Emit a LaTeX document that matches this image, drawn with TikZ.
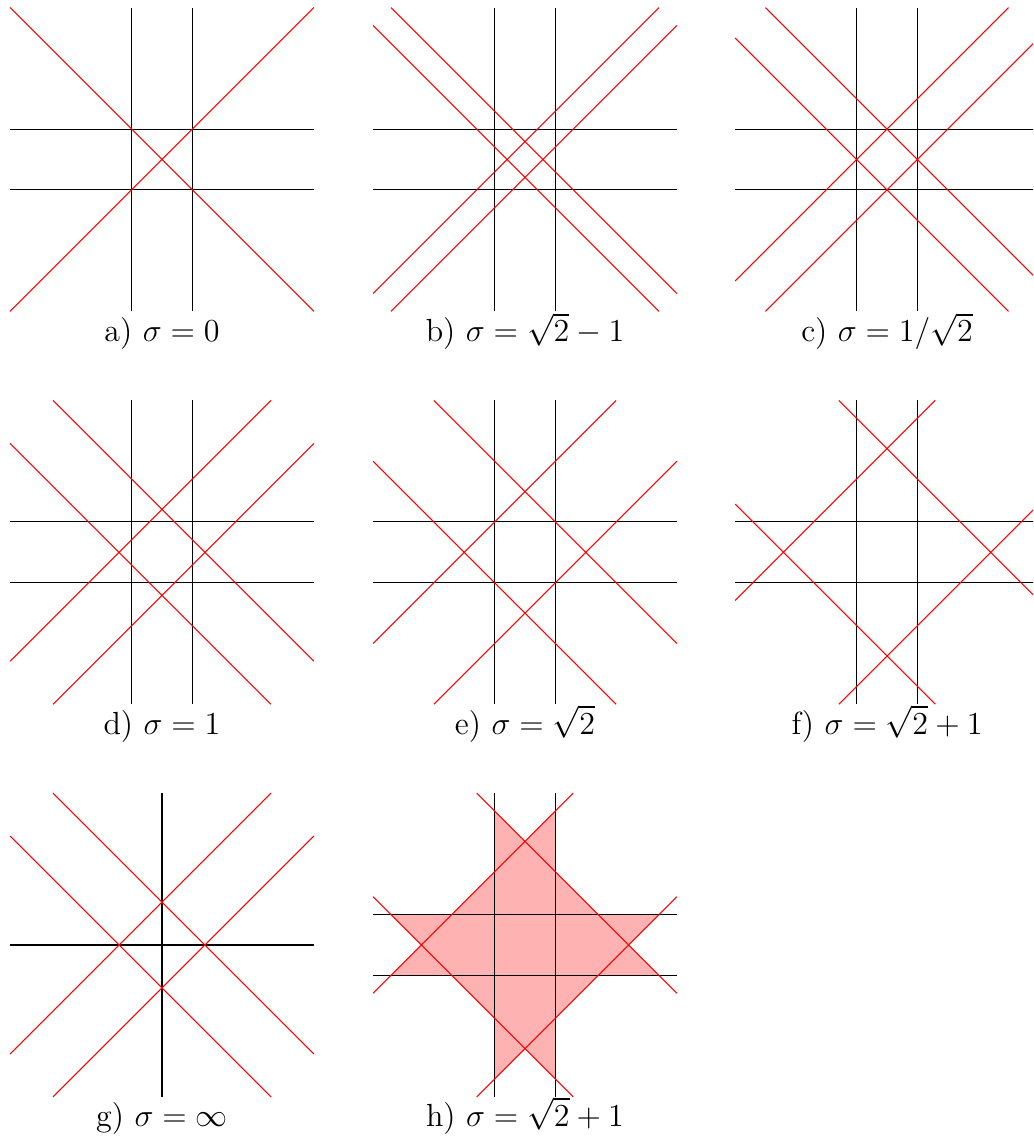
\documentclass[tikz,border=0pt]{standalone}
\newcommand{\gridpair}{\draw[gridline] (-1,-5) -- (-1,5) (1,-5) -- (1,5) (-5,-1) -- (5,-1) (-5,1) -- (5,1);}
\newcommand{\diaglines}[1]{\draw[redline] ({#1-5},5) -- (5,{#1-5}) (-5,{5-#1}) -- ({5-#1},-5) ({#1-5},-5) -- (5,{5-#1}) (-5,{#1-5}) -- ({5-#1},5);}
\begin{document}
\begin{tikzpicture}[x=0.013175cm,y=-0.013175cm,
  gridline/.style={black,line width=0.4pt},
  redline/.style={red,line width=0.4pt},
  starfill/.style={fill=red!30,draw=none},
  lbl/.style={anchor=base,font=\fontsize{12}{14.5}\selectfont,inner sep=0pt},
  panel/.style={x=0.4cm,y=0.4cm}]
\clip (0,0) rectangle (1033,1141);
% a
\begin{scope}[shift={(162,159.5)},panel]
  \gridpair \diaglines{0}
\end{scope}
\node[lbl] (la) at (162,342) {a) $\sigma = 0$};
% b
\begin{scope}[shift={(525,159.5)},panel]
  \gridpair \diaglines{0.5858}
\end{scope}
\node[lbl] (lb) at (525,342) {b) $\sigma = \sqrt{2}-1$};
% c
\begin{scope}[shift={(887,159.5)},panel]
  \gridpair \diaglines{1}
\end{scope}
\node[lbl] (lc) at (887,342) {c) $\sigma = 1/\sqrt{2}$};
% d
\begin{scope}[shift={(162,552.3)},panel]
  \gridpair \diaglines{1.4142}
\end{scope}
\node[lbl] (ld) at (162,734) {d) $\sigma = 1$};
% e
\begin{scope}[shift={(525,552.3)},panel]
  \gridpair \diaglines{2}
\end{scope}
\node[lbl] (le) at (525,734) {e) $\sigma = \sqrt{2}$};
% f
\begin{scope}[shift={(887,552.3)},panel]
  \gridpair \diaglines{3.4142}
\end{scope}
\node[lbl] (lf) at (887,734) {f) $\sigma = \sqrt{2}+1$};
% g
\begin{scope}[shift={(162,945)},panel]
  \draw[gridline] (0,-5) -- (0,5) (-5,0) -- (5,0);
  \diaglines{1.4142}
\end{scope}
\node[lbl] (lg) at (162,1126) {g) $\sigma = \infty$};
% h
\begin{scope}[shift={(525,945)},panel]
  \fill[starfill] (-1,4.4142) -- (0,3.4142) -- (1,4.4142) -- (1,2.4142) -- (2.4142,1) -- (4.4142,1)
    -- (3.4142,0) -- (4.4142,-1) -- (2.4142,-1) -- (1,-2.4142) -- (1,-4.4142) -- (0,-3.4142)
    -- (-1,-4.4142) -- (-1,-2.4142) -- (-2.4142,-1) -- (-4.4142,-1) -- (-3.4142,0) -- (-4.4142,1)
    -- (-2.4142,1) -- (-1,2.4142) -- cycle;
  \gridpair \diaglines{3.4142}
\end{scope}
\node[lbl] (lh) at (525,1126) {h) $\sigma = \sqrt{2}+1$};
\end{tikzpicture}
\end{document}
